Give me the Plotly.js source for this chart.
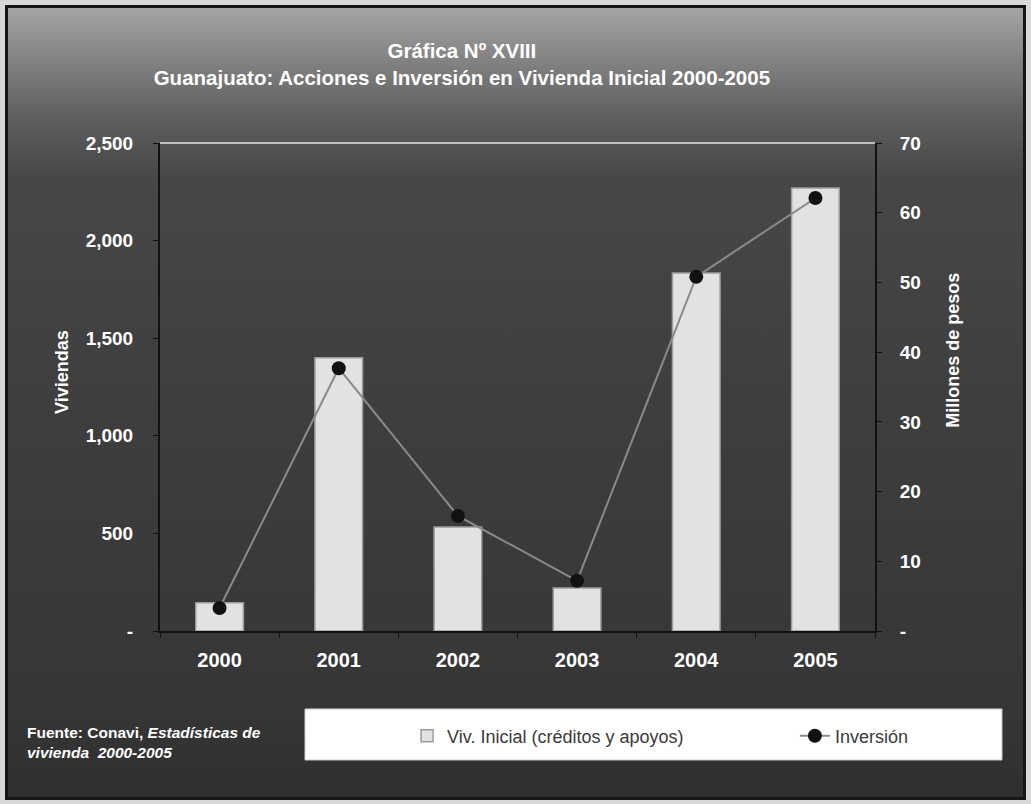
<!DOCTYPE html>
<html>
<head>
<meta charset="utf-8">
<script src="https://cdn.plot.ly/plotly-3.0.1.min.js"></script>
<style>
  html, body { margin: 0; padding: 0; background: #d8d8d8; }
  #frame {
    position: absolute; left: 5px; top: 5px; width: 1015px; height: 789px;
    border: 3px solid #151515;
    background: linear-gradient(to bottom, #a4a4a4 0px, #8a8a8a 40px, #5e5e5e 110px, #474747 170px, #3e3e3e 400px, #363636 700px, #2e2e2e 795px);
  }
  #chart { position: absolute; left: 0; top: 0; width: 1031px; height: 804px; }
</style>
</head>
<body>
<div id="frame"></div>
<div id="chart"></div>
<script>
const years = ['2000', '2001', '2002', '2003', '2004', '2005'];
const viviendas = [145, 1400, 533, 220, 1834, 2270];
const inversion = [3.3, 37.7, 16.5, 7.2, 50.8, 62.1];
const leftTickVals = [0, 500, 1000, 1500, 2000, 2500];
const leftTickText = ['-', '500', '1,000', '1,500', '2,000', '2,500'];
const rightTickVals = [0, 10, 20, 30, 40, 50, 60, 70];
const rightTickText = ['-', '10', '20', '30', '40', '50', '60', '70'];

const FAM = 'Liberation Sans, Arial, sans-serif';
const tickFont = { family: FAM, size: 19, color: '#ffffff', weight: 'bold' };
const xTickFont = { family: FAM, size: 20, color: '#ffffff', weight: 'bold' };
const axTitleFont = { family: FAM, size: 18, color: '#ffffff', weight: 'bold' };
const legendFont = { family: FAM, size: 18, color: '#3a3a3a' };

const traces = [
  {
    type: 'bar', name: 'Viv. Inicial (créditos y apoyos)', legend: 'legend',
    x: years, y: viviendas, yaxis: 'y', width: 0.4,
    marker: { color: '#e2e2e2', line: { color: '#9c9c9c', width: 1.5 } },
    hoverinfo: 'skip'
  },
  {
    type: 'scatter', mode: 'lines+markers', name: 'Inversión', legend: 'legend2',
    x: years, y: inversion, yaxis: 'y2',
    line: { color: '#8a8a8a', width: 2 },
    marker: { color: '#111111', size: 14 },
    hoverinfo: 'skip'
  }
];

const layout = {
  width: 1031, height: 804,
  margin: { l: 160, r: 156, t: 143, b: 173 },
  paper_bgcolor: 'rgba(0,0,0,0)',
  plot_bgcolor: 'rgba(0,0,0,0)',
  showlegend: true,
  title: {
    text: 'Gráfica Nº XVIII<br>Guanajuato: Acciones e Inversión en Vivienda Inicial 2000-2005',
    font: { family: FAM, size: 20.5, color: '#ffffff', weight: 'bold' },
    xref: 'container', x: 0.448, xanchor: 'center',
    yref: 'container', y: 0.928, yanchor: 'top'
  },
  xaxis: {
    type: 'category',
    showline: true, linecolor: '#111111', linewidth: 2,
    ticks: 'outside', tickson: 'boundaries', ticklen: 5, tickcolor: '#111111',
    tickfont: xTickFont, ticklabelstandoff: 10,
    showgrid: false, zeroline: false
  },
  yaxis: {
    range: [0, 2500], tickvals: leftTickVals, ticktext: leftTickText,
    showline: true, linecolor: '#111111', linewidth: 2,
    ticks: 'outside', ticklen: 5, tickcolor: '#111111',
    tickfont: tickFont, ticklabelstandoff: 16,
    showgrid: false, zeroline: false
  },
  yaxis2: {
    range: [0, 70], tickvals: rightTickVals, ticktext: rightTickText,
    overlaying: 'y', side: 'right',
    showline: true, linecolor: '#111111', linewidth: 2,
    ticks: 'outside', ticklen: 5, tickcolor: '#111111',
    tickfont: tickFont, ticklabelstandoff: 14,
    showgrid: false, zeroline: false
  },
  legend: {
    orientation: 'h', xref: 'container', yref: 'container',
    x: 0.3948, xanchor: 'left', y: 0.0846, yanchor: 'middle',
    bgcolor: 'rgba(0,0,0,0)', borderwidth: 0, font: legendFont
  },
  legend2: {
    orientation: 'h', xref: 'container', yref: 'container',
    x: 0.771, xanchor: 'left', y: 0.0846, yanchor: 'middle',
    bgcolor: 'rgba(0,0,0,0)', borderwidth: 0, font: legendFont
  },
  shapes: [
    { type: 'rect', xref: 'paper', yref: 'paper', x0: 0.2028, x1: 1.1776, y0: -0.1598, y1: -0.2643,
      fillcolor: '#ffffff', line: { color: '#cfcfcf', width: 1 }, layer: 'below' },
    { type: 'line', xref: 'paper', yref: 'paper', x0: 0, x1: 1, y0: 1, y1: 1,
      line: { color: '#e6e6e6', width: 1.5 } }
  ],
  annotations: [
    { xref: 'paper', yref: 'paper', x: -0.137, y: 0.531, xanchor: 'center', yanchor: 'middle',
      textangle: -90, showarrow: false, text: 'Viviendas', font: axTitleFont },
    { xref: 'paper', yref: 'paper', x: 1.109, y: 0.576, xanchor: 'center', yanchor: 'middle',
      textangle: -90, showarrow: false, text: 'Millones de pesos', font: axTitleFont },
    { xref: 'paper', yref: 'paper', x: -0.189, y: -0.2285, xanchor: 'left', yanchor: 'middle',
      align: 'left', showarrow: false,
      text: 'Fuente: Conavi, <i>Estadísticas de</i><br><i>vivienda  2000-2005</i>',
      font: { family: FAM, size: 15.5, color: '#ffffff', weight: 'bold' } }
  ]
};

Plotly.newPlot('chart', traces, layout, { displayModeBar: false, staticPlot: true });
</script>
</body>
</html>
